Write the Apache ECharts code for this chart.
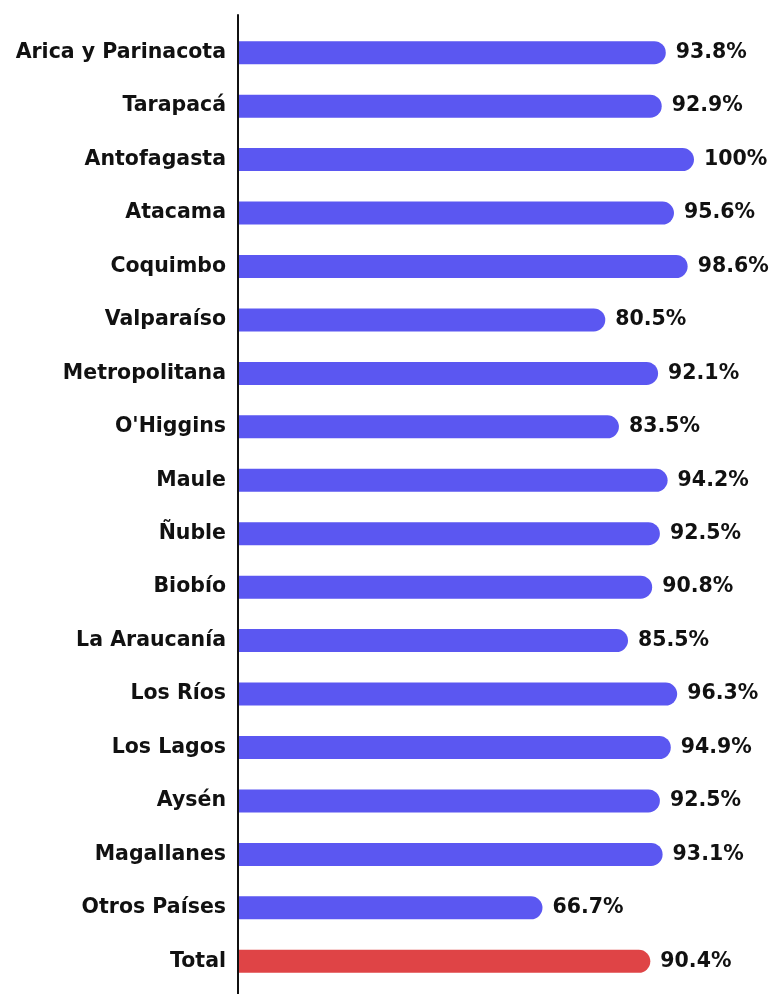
<!DOCTYPE html>
<html>
<head>
<meta charset="utf-8">
<script src="https://cdn.jsdelivr.net/npm/echarts@6/dist/echarts.min.js"></script>
<style>
  html, body { margin: 0; padding: 0; background: #fff; }
  #chart { width: 773px; height: 994px; }
</style>
</head>
<body>
<div id="chart"></div>
<script>
// regions, top to bottom
const regions = [
  "Arica y Parinacota", "Tarapacá", "Antofagasta", "Atacama", "Coquimbo",
  "Valparaíso", "Metropolitana", "O'Higgins", "Maule", "Ñuble", "Biobío",
  "La Araucanía", "Los Ríos", "Los Lagos", "Aysén", "Magallanes",
  "Otros Países", "Total"
];
const percent = [
  93.8, 92.9, 100, 95.6, 98.6, 80.5, 92.1, 83.5, 94.2, 92.5, 90.8,
  85.5, 96.3, 94.9, 92.5, 93.1, 66.7, 90.4
];
const blue = "#5b57f1";
const red = "#df4446";

const chart = echarts.init(document.getElementById("chart"));
const font = "'DejaVu Sans', sans-serif";

chart.setOption({
  animation: false,
  grid: [
    { left: 239, right: 79, top: 26, bottom: 6 },
    // only for the long vertical axis line
    { left: 238, right: 79, top: 15, bottom: 0 }
  ],
  xAxis: [
    { gridIndex: 0, type: "value", min: 0, max: 100, show: false },
    { gridIndex: 1, type: "value", min: 0, max: 100, show: false }
  ],
  yAxis: [
    {
      gridIndex: 0,
      type: "category",
      inverse: true,
      data: regions,
      axisLine: { show: false },
      axisTick: { show: false },
      axisLabel: {
        color: "#111",
        fontFamily: font,
        fontWeight: "bold",
        fontSize: 20.5,
        margin: 13
      }
    },
    {
      gridIndex: 1,
      type: "value",
      axisLine: { show: true, lineStyle: { color: "#111", width: 2 } },
      axisTick: { show: false },
      axisLabel: { show: false },
      splitLine: { show: false }
    }
  ],
  series: [{
    type: "bar",
    xAxisIndex: 0,
    yAxisIndex: 0,
    barWidth: 23,
    data: percent.map((v, i) => ({
      value: v,
      itemStyle: { color: regions[i] === "Total" ? red : blue }
    })),
    itemStyle: { borderRadius: [0, 11.5, 11.5, 0] },
    label: {
      show: true,
      position: "right",
      distance: 10,
      color: "#111",
      fontFamily: font,
      fontWeight: "bold",
      fontSize: 20.5,
      formatter: p => p.value + "%"
    }
  }]
});
</script>
</body>
</html>
